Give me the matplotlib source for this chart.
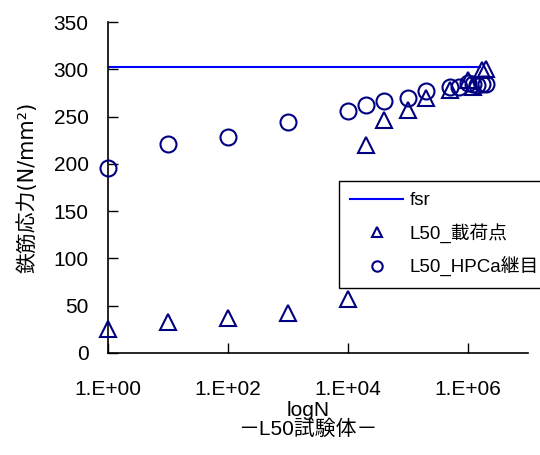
import math
import matplotlib
matplotlib.use('Agg')
import matplotlib.pyplot as plt
from matplotlib.ticker import FixedLocator, FuncFormatter, NullLocator

plt.rcParams['font.family'] = ['Liberation Sans', 'Noto Sans CJK JP', 'DejaVu Sans']

# fsr line
fsr_n = [1, 1.6e6]
fsr_val = [302, 302]

# L50_載荷点 (triangles)
load_n = [1, 10, 100, 1000, 1e4, 2e4, 4e4, 1e5, 2e5, 5e5, 1e6, 1.2e6, 1.7e6, 2e6]
load_val = [25, 33, 37, 42, 57, 220, 246, 257, 270, 278, 289, 281, 299, 300]

# L50_HPCa継目 (circles)
joint_n = [1, 10, 100, 1000, 1e4, 2e4, 4e4, 1e5, 2e5, 5e5, 7e5, 1e6, 1.2e6, 1.4e6, 1.7e6, 2e6]
joint_val = [196, 221, 228, 244, 256, 262, 266, 270, 277, 281, 281, 285, 284, 283, 284, 284]

x_ticks = [1, 1e2, 1e4, 1e6]
y_ticks = [0, 50, 100, 150, 200, 250, 300, 350]

fig = plt.figure(figsize=(5.4, 4.55), dpi=100)
ax = fig.add_axes([108/540, 1 - 353/455, 420/540, 331/455])

navy = '#000080'
ax.plot(fsr_n, fsr_val, color='#0000FF', lw=1.5, label='fsr', zorder=2)
ax.plot(load_n, load_val, ls='none', marker='^', ms=11.5, mfc='none', mec=navy,
        mew=1.5, label='L50_載荷点', clip_on=False, zorder=3)
ax.plot(joint_n, joint_val, ls='none', marker='o', ms=11.5, mfc='none', mec=navy,
        mew=1.5, label='L50_HPCa継目', clip_on=False, zorder=3)

ax.set_xscale('log')
ax.set_xlim(1, 1e7)
ax.set_ylim(0, 350)
ax.xaxis.set_major_locator(FixedLocator(x_ticks))
ax.xaxis.set_minor_locator(NullLocator())
ax.xaxis.set_major_formatter(FuncFormatter(lambda v, p: '1.E+%02d' % round(math.log10(v))))
ax.yaxis.set_major_locator(FixedLocator(y_ticks))

for s in ['top', 'right']:
    ax.spines[s].set_visible(False)
ax.spines['left'].set_linewidth(1.2)
ax.spines['bottom'].set_linewidth(1.2)
ax.tick_params(axis='x', direction='in', length=7, width=1, pad=19.5, labelsize=15)
ax.tick_params(axis='y', direction='in', length=7, width=1, pad=14, labelsize=15)

ax.set_xlabel('logN\n－L50試験体－', fontsize=15, linespacing=0.95)
ax.xaxis.set_label_coords(0.476, -0.146)
ax.xaxis.label.set_va('top')
ax.set_ylabel('鉄筋応力(N/mm²)', fontsize=15, family=['DejaVu Sans', 'Noto Sans CJK JP'])
ax.yaxis.set_label_coords(-0.168, 0.5)

leg = ax.legend(loc='upper left', bbox_to_anchor=(339/540, 1 - 181/455),
                bbox_transform=fig.transFigure, borderaxespad=0, fontsize=13.5,
                frameon=True, fancybox=False, edgecolor='black', framealpha=1,
                markerscale=0.65, handlelength=2.8, labelspacing=0.72,
                borderpad=0.6, handletextpad=0.35)
leg.get_frame().set_linewidth(1.0)

fig.savefig('out.png', dpi=100)
